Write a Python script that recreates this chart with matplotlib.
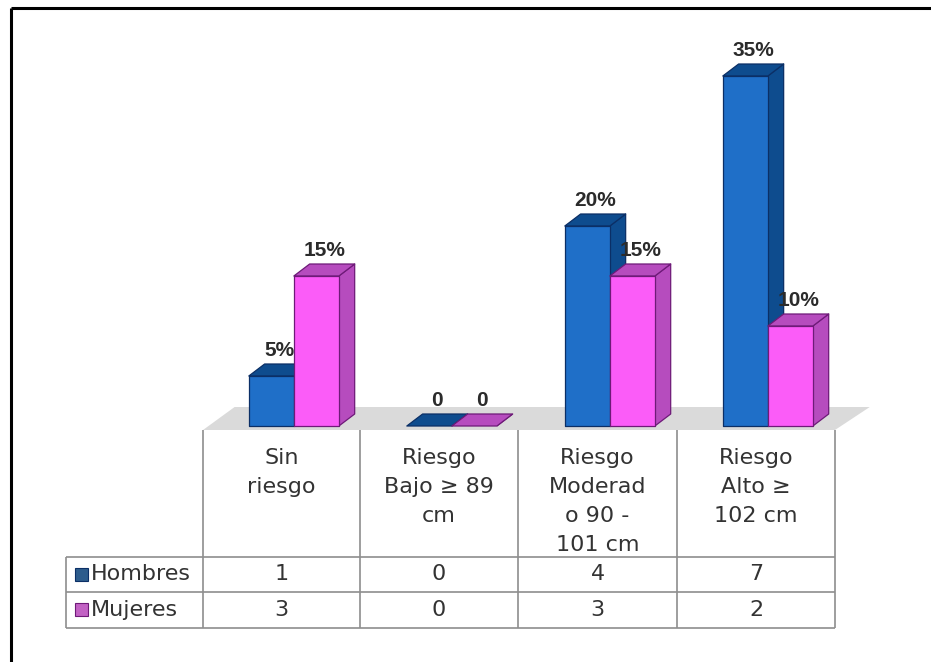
import matplotlib
matplotlib.use("Agg")
import matplotlib.pyplot as plt
from matplotlib.patches import Polygon, Rectangle

# data
categories = ["Sin\nriesgo", "Riesgo\nBajo ≥ 89\ncm", "Riesgo\nModerad\no 90 -\n101 cm", "Riesgo\nAlto ≥\n102 cm"]
series = ["Hombres", "Mujeres"]
hombres_pct = [5, 0, 20, 35]
mujeres_pct = [15, 0, 15, 10]
hombres_n = [1, 0, 4, 7]
mujeres_n = [3, 0, 3, 2]

# colours: front, top/side, edge, legend key
blue = ("#1f6fc8", "#0e4c8e", "#0b2f66", "#2d5c8c")
pink = ("#fb5cf8", "#b64cbe", "#6e1a78", "#c262c4")

W, H = 931, 662
fig = plt.figure(figsize=(W / 100, H / 100), dpi=100)

# overlay in pixel coords for table and frame
ov = fig.add_axes([0, 0, 1, 1])
ov.set_xlim(0, W)
ov.set_ylim(H, 0)
ov.axis("off")

# bar axes: x = category index, y = percent (10 px per %)
col_x = [203, 360, 518, 677, 835]
top_pix, bot_pix, base_pix = 10, 430, 426
ax = fig.add_axes([col_x[0] / W, (H - bot_pix) / H, (col_x[-1] - col_x[0]) / W, (bot_pix - top_pix) / H])
ax.set_xlim(-0.5, len(categories) - 0.5)
ax.set_ylim((base_pix - bot_pix) / 10, (base_pix - top_pix) / 10)
ax.axis("off")
ax.patch.set_alpha(0)

# floor
fdx, fdy = 0.2, 2.3
y0 = ax.get_ylim()[0]
n = len(categories)
ax.add_patch(Polygon([(-0.5, y0), (n - 0.5, y0), (n - 0.5 + fdx + 0.02, y0 + fdy), (-0.5 + fdx, y0 + fdy)],
                     closed=True, facecolor="#dadada", edgecolor="none", clip_on=False, zorder=1))

dx, dy = 0.1, 1.2
bar_left = [-0.21, 0.075]
bar_w = 0.285


def bar3d(x0, h, col):
    x1 = x0 + bar_w
    kw = dict(closed=True, edgecolor=col[2], linewidth=0.9, clip_on=False, zorder=2, joinstyle="round")
    ax.add_patch(Polygon([(x1, 0), (x1 + dx, dy), (x1 + dx, h + dy), (x1, h)], facecolor=col[1], **kw))
    ax.add_patch(Polygon([(x0, h), (x1, h), (x1 + dx, h + dy), (x0 + dx, h + dy)], facecolor=col[1], **kw))
    if h > 0:
        ax.add_patch(Polygon([(x0, 0), (x1, 0), (x1, h), (x0, h)], facecolor=col[0], **kw))


label_font = dict(family="Liberation Sans", fontsize=15, fontweight="bold", color="#2b2b2b")
for i in range(n):
    for vals, col, off in ((hombres_pct, blue, bar_left[0]), (mujeres_pct, pink, bar_left[1])):
        v = vals[i]
        x0 = i + off
        bar3d(x0, v, col)
        txt = f"{v}%" if v else "0"
        ax.text(x0 + bar_w / 2 + dx / 2, v + dy + 1.3, txt, ha="center", va="center", zorder=3, **label_font)

# table
line_kw = dict(color="#8e8e8e", linewidth=1.2, solid_capstyle="butt")
row_y = [557, 592, 628]
for x in col_x:
    ov.plot([x, x], [bot_pix, row_y[-1]], **line_kw)
ov.plot([66, 66], [row_y[0], row_y[-1]], **line_kw)
for y in row_y:
    ov.plot([66, col_x[-1]], [y, y], **line_kw)

txt_font = dict(family="DejaVu Sans", fontsize=16, color="#333333")
for i, cat in enumerate(categories):
    cx = (col_x[i] + col_x[i + 1]) / 2
    for k, line in enumerate(cat.split("\n")):
        ov.text(cx, 458 + 29 * k, line, ha="center", va="center", **txt_font)
    ov.text(cx, (row_y[0] + row_y[1]) / 2, str(hombres_n[i]), ha="center", va="center", **txt_font)
    ov.text(cx, (row_y[1] + row_y[2]) / 2, str(mujeres_n[i]), ha="center", va="center", **txt_font)

for j, (name, col) in enumerate(zip(series, (blue, pink))):
    yc = (row_y[j] + row_y[j + 1]) / 2
    ov.add_patch(Rectangle((75, yc - 7), 13, 13, facecolor=col[3], edgecolor=col[2], linewidth=0.8))
    ov.text(91, yc, name, ha="left", va="center", **txt_font)

# outer frame (left and top only)
ov.plot([11, 11], [8, H], color="black", linewidth=2.2, solid_capstyle="butt")
ov.plot([11, W], [8, 8], color="black", linewidth=2.2, solid_capstyle="butt")

fig.savefig("out.png", dpi=100)
